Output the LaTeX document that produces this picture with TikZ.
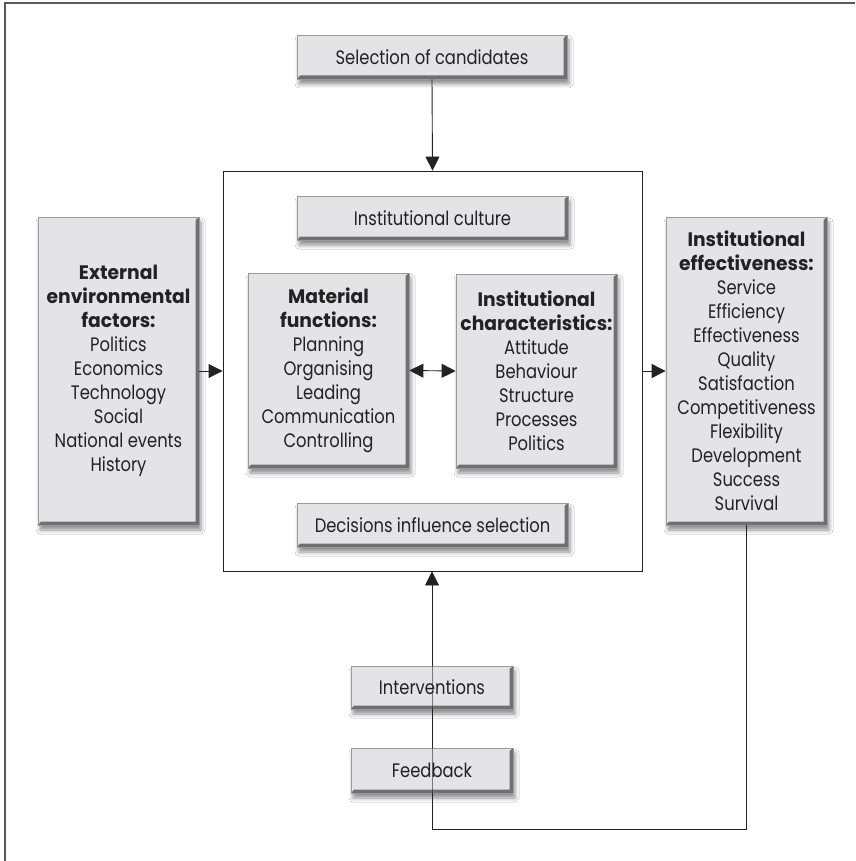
\documentclass[tikz,border=0pt]{standalone}
\usepackage{fontspec}
\setmainfont{Poppins}[FakeStretch=0.84]
\newfontfamily\headfont{Poppins}[FakeStretch=0.96]
\usetikzlibrary{arrows.meta,calc,shadows.blur}
\definecolor{boxfill}{HTML}{E4E4E6}
\definecolor{boxedge}{HTML}{9A9A9C}
\definecolor{bevel}{HTML}{707072}
\definecolor{ink}{HTML}{222222}
\newcommand{\hd}[1]{{\headfont\bfseries #1}}
\tikzset{
  gbox/.style={fill=boxfill, draw=boxedge, line width=0.8pt, align=center, text=ink,
    inner sep=0pt,
    font=\fontsize{19.5}{24}\selectfont,
    blur shadow={shadow xshift=2pt, shadow yshift=-5pt, shadow blur radius=4pt, shadow opacity=45},
    path picture={
      \fill[bevel] (path picture bounding box.south west) -- (path picture bounding box.south east)
        -- (path picture bounding box.north east) -- ($(path picture bounding box.north east)+(-3.5pt,-3pt)$)
        -- ($(path picture bounding box.south east)+(-3.5pt,3.5pt)$) -- ($(path picture bounding box.south west)+(3pt,3.5pt)$) -- cycle;
    }},
  conn/.style={draw=ink, line width=0.9pt},
  arr/.style={conn, -{Triangle[length=14pt,width=14pt]}},
  darr/.style={conn, {Triangle[length=14pt,width=14pt]}-{Triangle[length=14pt,width=14pt]}},
  faint/.style={draw=ink, line width=0.6pt, opacity=0.55}
}
\begin{document}
\begin{tikzpicture}[x=1pt,y=-1pt]
\useasboundingbox (0,0) rectangle (855,861);
\fill[white] (0,0) rectangle (855,861);
\draw[gray!70!black, line width=2pt] (5,861) -- (5,3) -- (855,3);

\node[draw=ink, line width=0.9pt, minimum width=419pt, minimum height=400pt, inner sep=0pt] (main) at (432.5,371) {};

\node[gbox, minimum width=270pt, minimum height=44pt] (sel) at (432,57) {Selection of candidates};
\node[gbox, minimum width=271pt, minimum height=44pt] (cult) at (432.5,218) {Institutional culture};
\node[gbox, minimum width=161pt, minimum height=195pt] (mat) at (328.5,370.5)
  {\hd{Material}\\\hd{functions:}\\Planning\\Organising\\Leading\\Communication\\Controlling};
\node[gbox, minimum width=161pt, minimum height=194pt] (chr) at (536.5,371)
  {\hd{Institutional}\\\hd{characteristics:}\\Attitude\\Behaviour\\Structure\\Processes\\Politics};
\node[gbox, minimum width=271pt, minimum height=44pt] (dec) at (432.5,525) {Decisions influence selection};
\node[gbox, minimum width=161pt, minimum height=308pt] (ext) at (118.5,371)
  {\hd{External}\\\hd{environmental}\\\hd{factors:}\\Politics\\Economics\\Technology\\Social\\National events\\History};
\node[gbox, minimum width=161pt, minimum height=308pt] (eff) at (746.5,371)
  {\hd{Institutional}\\\hd{effectiveness:}\\Service\\Efficiency\\Effectiveness\\Quality\\Satisfaction\\Competitiveness\\Flexibility\\Development\\Success\\Survival};
\node[gbox, minimum width=162pt, minimum height=43pt] (int) at (432,687.5) {Interventions};
\node[gbox, minimum width=162pt, minimum height=45pt] (fb) at (432,770.5) {Feedback};

\coordinate (turn) at (746.5,829);

\draw[arr] (sel.south) -- (main.north);
\draw[arr] (ext.east) -- (ext.east -| main.west);
\draw[arr] (eff.west -| main.east) -- (eff.west);
\draw[darr] (mat.east) -- (chr.west);
\draw[conn] (eff.south) -- (turn) -| (fb.south);
\draw[faint] (fb.south) -- (fb.north);
\draw[conn] (fb.north) -- (int.south);
\draw[faint] (int.south) -- (int.north);
\draw[arr] (int.north) -- (int.north |- main.south);
\end{tikzpicture}
\end{document}
